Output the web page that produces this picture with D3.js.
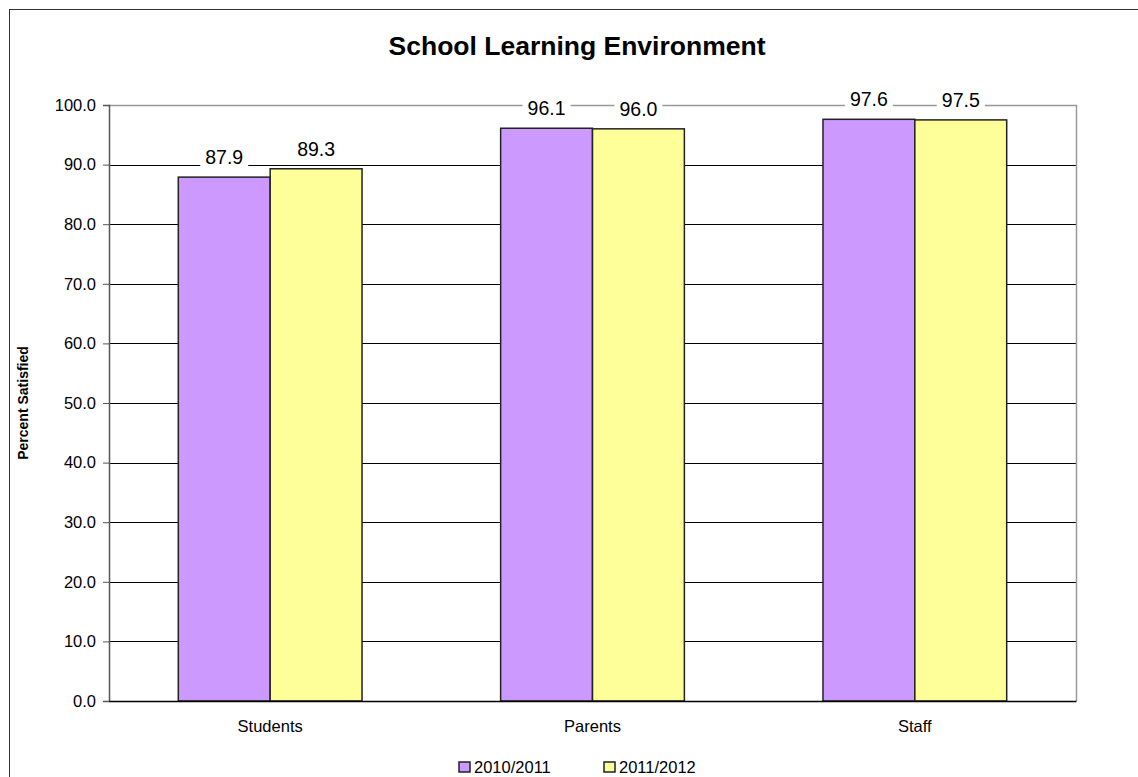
<!DOCTYPE html>
<html>
<head>
<meta charset="utf-8">
<script src="https://cdn.jsdelivr.net/npm/d3@7"></script>
<style>
  body { margin: 0; background: #fff; }
  text { font-family: "Liberation Sans", Arial, sans-serif; fill: #000; }
</style>
</head>
<body>
<svg id="chart" width="1138" height="777"></svg>
<script>
var categories = ["Students", "Parents", "Staff"];
var seriesNames = ["2010/2011", "2011/2012"];
var values2010 = [87.9, 96.1, 97.6];
var values2011 = [89.3, 96.0, 97.5];
var colors = ["#cc99ff", "#ffff99"];
var yTicks = [0, 10, 20, 30, 40, 50, 60, 70, 80, 90, 100];

var svg = d3.select("#chart");

var plotLeft = 109, plotRight = 1076, plotTop = 105, plotBottom = 701;

// outer frame
svg.append("rect")
  .attr("x", 9.5).attr("y", 9.5)
  .attr("width", 1140).attr("height", 780)
  .attr("fill", "#fff").attr("stroke", "#333").attr("stroke-width", 1);

var x = d3.scaleBand()
  .domain(categories)
  .range([plotLeft, plotRight])
  .paddingInner(0.43)
  .paddingOuter(0.215);

var x1 = d3.scaleBand()
  .domain(seriesNames)
  .range([0, x.bandwidth()]);

var y = d3.scaleLinear()
  .domain([0, 100])
  .range([plotBottom, plotTop]);

// gridlines
svg.append("g")
  .selectAll("line")
  .data(yTicks.filter(function(d) { return d > 0 && d < 100; }))
  .enter().append("line")
  .attr("x1", plotLeft).attr("x2", plotRight)
  .attr("y1", function(d) { return Math.round(y(d)) + 0.5; })
  .attr("y2", function(d) { return Math.round(y(d)) + 0.5; })
  .attr("stroke", "#000");

// plot area border top & right
svg.append("path")
  .attr("d", "M" + plotLeft + "," + (plotTop + 0.5) + "H" + (plotRight + 0.5) + "V" + plotBottom)
  .attr("fill", "none").attr("stroke", "#999").attr("stroke-width", 1.5);

// bars
var data = [];
categories.forEach(function(c, i) {
  data.push({ cat: c, series: seriesNames[0], value: values2010[i], color: colors[0] });
  data.push({ cat: c, series: seriesNames[1], value: values2011[i], color: colors[1] });
});

svg.append("g")
  .selectAll("rect")
  .data(data)
  .enter().append("rect")
  .attr("x", function(d) { return x(d.cat) + x1(d.series); })
  .attr("y", function(d) { return y(d.value); })
  .attr("width", x1.bandwidth())
  .attr("height", function(d) { return y(0) - y(d.value); })
  .attr("fill", function(d) { return d.color; })
  .attr("stroke", "#222").attr("stroke-width", 1.5);

// value labels with white background
var lab = svg.append("g")
  .selectAll("g")
  .data(data)
  .enter().append("g")
  .attr("transform", function(d) {
    return "translate(" + (x(d.cat) + x1(d.series) + x1.bandwidth() / 2) + "," + (y(d.value) - 13) + ")";
  });

lab.append("rect")
  .attr("x", -24).attr("y", -18)
  .attr("width", 48).attr("height", 23)
  .attr("fill", "#fff");

lab.append("text")
  .attr("text-anchor", "middle")
  .style("font-size", "19.5px")
  .text(function(d) { return d.value.toFixed(1); });

// y axis
var yAxis = svg.append("g")
  .attr("transform", "translate(" + plotLeft + ",0)")
  .call(d3.axisLeft(y).tickValues(yTicks).tickSize(6).tickPadding(7)
    .tickFormat(function(d) { return d.toFixed(1); }));
yAxis.select(".domain").attr("stroke", "#555").attr("stroke-width", 1.5);
yAxis.selectAll(".tick line").attr("stroke", "#555");
yAxis.selectAll("text").style("font-size", "16.5px").attr("fill", "#000");

// x axis
var xAxis = svg.append("g")
  .attr("transform", "translate(0," + plotBottom + ")")
  .call(d3.axisBottom(x).tickSize(0).tickPadding(19));
xAxis.select(".domain").attr("stroke", "#000").attr("stroke-width", 1.5);
xAxis.selectAll("text").style("font-size", "16.5px").attr("fill", "#000");

// title
svg.append("text")
  .attr("x", 577).attr("y", 55)
  .attr("text-anchor", "middle")
  .style("font-size", "26.5px").style("font-weight", "bold")
  .text("School Learning Environment");

// y label
svg.append("text")
  .attr("transform", "translate(28,403) rotate(-90)")
  .attr("text-anchor", "middle")
  .style("font-size", "14px").style("font-weight", "bold")
  .text("Percent Satisfied");

// legend
var legX = [459, 604];
var leg = svg.append("g")
  .selectAll("g")
  .data(seriesNames)
  .enter().append("g")
  .attr("transform", function(d, i) { return "translate(" + legX[i] + ",762)"; });

leg.append("rect")
  .attr("width", 11).attr("height", 10)
  .attr("fill", function(d, i) { return colors[i]; })
  .attr("stroke", "#222").attr("stroke-width", 1.5);

leg.append("text")
  .attr("x", 15).attr("y", 11)
  .style("font-size", "16.5px")
  .text(function(d) { return d; });
</script>
</body>
</html>
